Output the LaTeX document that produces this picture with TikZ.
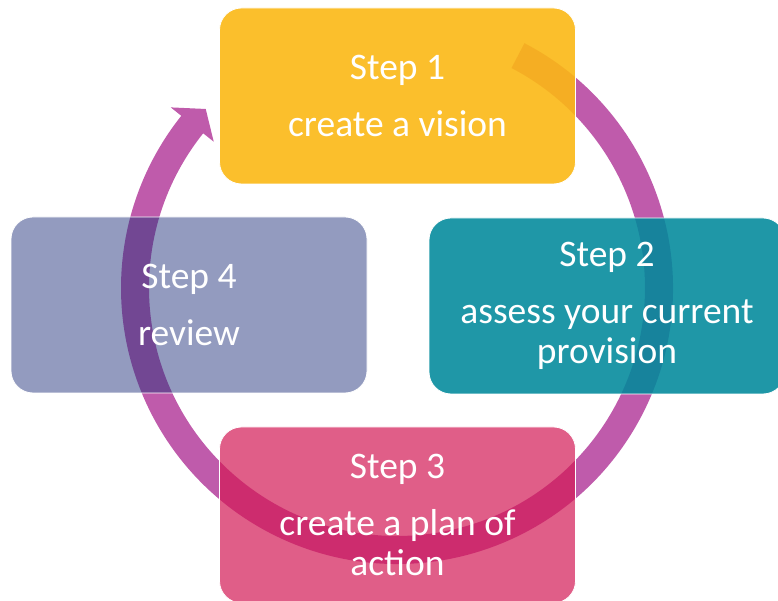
\documentclass[tikz,border=0pt]{standalone}
\usepackage{fontspec}
\setmainfont{Carlito}
\definecolor{arrowcol}{RGB}{191,91,171}
\definecolor{visioncol}{RGB}{251,184,21}
\definecolor{assesscol}{RGB}{0,137,155}
\definecolor{plancol}{RGB}{211,25,85}
\definecolor{reviewcol}{RGB}{35,51,124}

\begin{document}
\begin{tikzpicture}[x=1pt,y=1pt,
   stepbox/.style={rectangle, rounded corners=22pt, minimum width=356pt,
      minimum height=176pt, inner sep=0pt, draw=white, line width=0.8pt,
      text=white, text opacity=1, align=center,
      font=\fontsize{37.5}{40}\selectfont}]
   \useasboundingbox (0,0) rectangle (778,601);
   \clip (0,0) rectangle (778,601);

   %% Kreispfeil
   \coordinate (hub) at (397,313);
   \fill[arrowcol, shift={(hub)}]
      (62.5:276) arc[start angle=62.5, end angle=-218.6, radius=276]
      -- (141.4:289.5) -- (136.9:262) -- (141.4:234.5) -- (141.4:248)
      arc[start angle=-218.6, end angle=62.5, radius=248] -- cycle;

   %% Schritte
   \node[stepbox, fill=visioncol, fill opacity=0.9] (vision) at (397.5,505)
      {Step 1\\[17pt]create a vision};
   \node[stepbox, fill=assesscol, fill opacity=0.88] (assess) at (607,295)
      {Step 2\\[17pt]assess your current\\provision};
   \node[stepbox, fill=plancol, fill opacity=0.7] (plan) at (397.5,86)
      {Step 3\\[17pt]create a plan of\\action};
   \node[stepbox, fill=reviewcol, fill opacity=0.49] (review) at (189,296)
      {Step 4\\[17pt]review};
\end{tikzpicture}
\end{document}
